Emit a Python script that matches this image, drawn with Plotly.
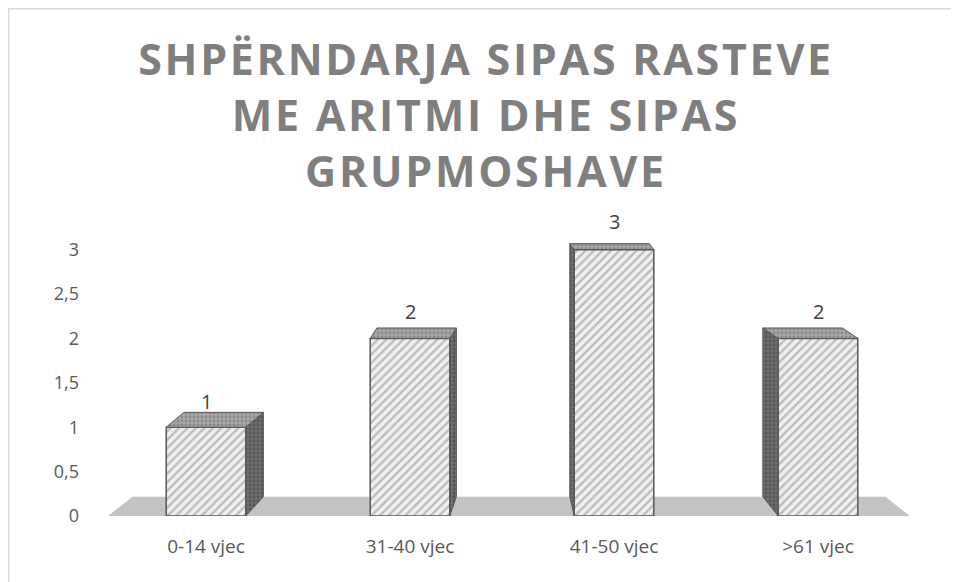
import plotly.graph_objects as go

# ---- data ----
categories = ["0-14 vjec", "31-40 vjec", "41-50 vjec", ">61 vjec"]
values = [1, 2, 3, 2]
y_tickvals = [0, 0.5, 1, 1.5, 2, 2.5, 3]
y_ticktext = ["0", "0,5", "1", "1,5", "2", "2,5", "3"]
title_lines = ["SHPËRNDARJA SIPAS RASTEVE", "ME ARITMI DHE SIPAS", "GRUPMOSHAVE"]

# ---- layout constants (page body has an 8px margin) ----
W, H = 951, 574
ML, MR, MT, MB = 96, 39, 215, 66
X_RANGE = [-0.5, 3.5]
Y_RANGE = [0, 3.3]
px_x = (W - ML - MR) / (X_RANGE[1] - X_RANGE[0])
px_y = (H - MT - MB) / (Y_RANGE[1] - Y_RANGE[0])
BAR_W = 0.39
VP_X = 1.6          # horizontal vanishing point (category units)
K_X = 11.0          # px of depth shift per category unit
DEPTH0 = 19.3       # px depth at value 0
DEPTH_K = 4.43      # depth reduction px per unit value

EDGE = "#595959"
xs = list(range(len(categories)))

fig = go.Figure()

# front faces
fig.add_trace(go.Bar(
    x=xs, y=values, width=BAR_W,
    marker=dict(
        color="#eeeeee",
        line=dict(color=EDGE, width=1.5),
        pattern=dict(shape="/", fgcolor="#858585", bgcolor="#efefef", size=6, solidity=0.38),
    ),
    showlegend=False, hoverinfo="skip",
))

# 3D faces (top + side), computed from values
for i, v in zip(xs, values):
    dx = K_X * (VP_X - i) / px_x
    dyt = (DEPTH0 - DEPTH_K * v) / px_y
    dyb = DEPTH0 / px_y
    xl, xr = i - BAR_W / 2, i + BAR_W / 2
    if dx >= 0:
        sx = [xr, xr, xr + dx, xr + dx, xr]
    else:
        sx = [xl, xl, xl + dx, xl + dx, xl]
    sy = [0, v, v + dyt, dyb, 0]
    fig.add_trace(go.Scatter(
        x=sx, y=sy, mode="lines", fill="toself",
        fillcolor="#5e5e5e",
        fillpattern=dict(shape=".", fgcolor="#3c3c3c", bgcolor="#6e6e6e", size=4, solidity=0.4),
        line=dict(color=EDGE, width=1),
        showlegend=False, hoverinfo="skip",
    ))
    tx = [xl, xr, xr + dx, xl + dx, xl]
    ty = [v, v, v + dyt, v + dyt, v]
    fig.add_trace(go.Scatter(
        x=tx, y=ty, mode="lines", fill="toself",
        fillcolor="#9a9a9a",
        fillpattern=dict(shape=".", fgcolor="#6a6a6a", bgcolor="#a8a8a8", size=4, solidity=0.4),
        line=dict(color=EDGE, width=1),
        showlegend=False, hoverinfo="skip",
    ))
    fig.add_annotation(
        x=i, y=v + dyt, text=str(v), showarrow=False,
        yanchor="bottom", yshift=-5 + 6 * (v - 1),
        font=dict(family="Open Sans", size=20, color="#404040"),
    )

# floor
fd = DEPTH0 / px_y
floor_path = (f"M {X_RANGE[0] + 0.02},0 L {X_RANGE[1] - 0.05},0 "
              f"L {X_RANGE[1] - 0.17},{fd} L {X_RANGE[0] + 0.14},{fd} Z")
fig.add_shape(type="path", path=floor_path, xref="x", yref="y",
              fillcolor="#c3c3c3", line=dict(width=0), layer="below")

# chart border (top and left visible)
pw, ph = W - ML - MR, H - MT - MB
fig.add_shape(type="line", xref="paper", yref="paper",
              x0=(0 - ML) / pw, x1=(W - ML) / pw,
              y0=(H - MB) / ph, y1=(H - MB) / ph,
              line=dict(color="#d9d9d9", width=3))
fig.add_shape(type="line", xref="paper", yref="paper",
              x0=(0 - ML) / pw, x1=(0 - ML) / pw,
              y0=(H - MB) / ph, y1=-MB / ph,
              line=dict(color="#d9d9d9", width=3))

title_html = "<br>".join(
    f'<span style="letter-spacing:2.7px">{ln}</span>' for ln in title_lines)

fig.update_layout(
    width=W, height=H,
    margin=dict(l=ML, r=MR, t=MT, b=MB),
    paper_bgcolor="white", plot_bgcolor="white",
    title=dict(text=title_html, x=478 / W, xanchor="center",
               y=1 - 67 / H, yanchor="top", yref="container",
               font=dict(family="Open Sans", size=43, color="#7f7f7f", weight="bold")),
    xaxis=dict(range=X_RANGE, tickvals=xs, ticktext=categories, showgrid=False,
               zeroline=False, showline=False, ticks="", ticklabelstandoff=17,
               tickfont=dict(family="Open Sans", size=19, color="#595959")),
    yaxis=dict(range=Y_RANGE, tickvals=y_tickvals, ticktext=y_ticktext, showgrid=False,
               zeroline=False, showline=False, ticks="", ticklabelstandoff=24,
               tickfont=dict(family="Open Sans", size=18, color="#595959")),
    bargap=0.5,
)

fig.write_html("out.html")
